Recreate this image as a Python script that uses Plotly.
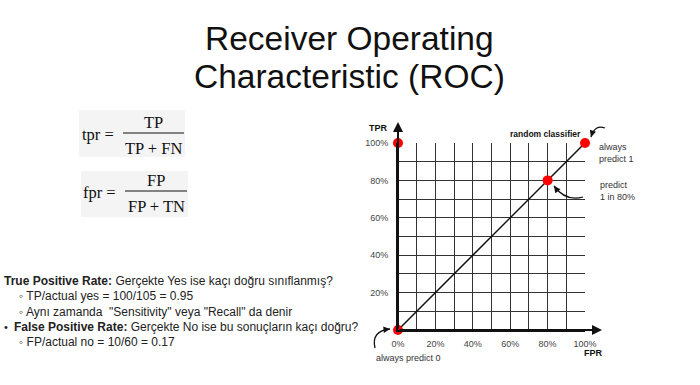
import plotly.graph_objects as go

# ---- data ----
fpr_points = [0.0, 0.8, 1.0, 0.0]
tpr_points = [0.0, 0.8, 1.0, 1.0]
diag_x = [0.0, 1.0]
diag_y = [0.0, 1.0]
x_tick_vals = [0, 0.2, 0.4, 0.6, 0.8, 1.0]
x_tick_text = ["0%", "20%", "40%", "60%", "80%", "100%"]
y_tick_vals = [0.2, 0.4, 0.6, 0.8, 1.0]
y_tick_text = ["20%", "40%", "60%", "80%", "100%"]

title_lines = ["Receiver Operating", "Characteristic (ROC)"]
bullet_lines = [
    "<b>True Positive Rate:</b> Gerçekte Yes ise kaçı doğru sınıflanmış?",
    "◦ TP/actual yes = 100/105 = 0.95",
    "◦ Aynı zamanda  \"Sensitivity\" veya \"Recall\" da denir",
    "<b>False Positive Rate:</b> Gerçekte No ise bu sonuçların kaçı doğru?",
    "◦ FP/actual no = 10/60 = 0.17",
]

W, H = 700, 385
X0, X1, Y0, Y1 = 398, 585, 330, 143  # plot area in pixels


def px(x):
    return (x - X0) / (X1 - X0)


def py(y):
    return (Y0 - y) / (Y0 - Y1)


fig = go.Figure()
fig.add_trace(go.Scatter(x=diag_x, y=diag_y, mode="lines",
                         line=dict(color="#111", width=1.5), hoverinfo="skip"))
fig.add_trace(go.Scatter(x=fpr_points, y=tpr_points, mode="markers",
                         marker=dict(color="#ff0000", size=10), hoverinfo="skip", cliponaxis=False))

grid_col = "#333"
axis_common = dict(range=[0, 1], showgrid=True,
                   gridcolor=grid_col, gridwidth=1, zeroline=False, showline=True,
                   linecolor="#111", linewidth=2, ticks="",
                   tickfont=dict(family="Liberation Sans", size=9, color="#444"),
                   minor=dict(dtick=0.1, tick0=0, showgrid=True, gridcolor=grid_col, gridwidth=1),
                   fixedrange=True)
fig.update_xaxes(**axis_common, tickvals=x_tick_vals, ticktext=x_tick_text, ticklabelstandoff=4)
fig.update_yaxes(**axis_common, tickvals=y_tick_vals, ticktext=y_tick_text, ticklabelstandoff=6)

ann = []
# title
for i, t in enumerate(title_lines):
    ann.append(dict(text=t, x=px(349), y=py(38 + 39 * i), xref="paper", yref="paper",
                    showarrow=False, xanchor="center", yanchor="middle",
                    font=dict(family="Liberation Sans", size=33.5, color="#111")))

# bullet text block
line_y = [281, 296, 311.5, 326.5, 341.5]
line_x = [2, 17, 17, 12, 17]
for t, x, y in zip(bullet_lines, line_x, line_y):
    ann.append(dict(text=t, x=px(x), y=py(y), xref="paper", yref="paper", showarrow=False,
                    xanchor="left", yanchor="middle",
                    font=dict(family="Liberation Sans", size=12, color="#222")))
ann.append(dict(text="•", x=px(2), y=py(326.5), xref="paper", yref="paper", showarrow=False,
                xanchor="left", yanchor="middle",
                font=dict(family="Liberation Sans", size=11, color="#222")))

# formulas
serif = dict(family="Liberation Serif", size=16.5, color="#111")
formulas = [
    ("tpr =", "TP", "TP + FN", 80, 134, 123, 184, 153),
    ("fpr =", "FP", "FP + TN", 81, 192, 125, 187, 156),
]
shapes = []
boxes = [(79, 110, 185, 157), (81, 171, 188, 217)]
for (bx0, by0, bx1, by1) in boxes:
    shapes.append(dict(type="rect", xref="paper", yref="paper", x0=px(bx0), x1=px(bx1),
                       y0=py(by1), y1=py(by0), fillcolor="#f4f4f4", line=dict(width=0), layer="below"))
for lhs, num, den, lx, ly, fx0, fx1, fc in formulas:
    ann.append(dict(text=lhs, x=px(lx), y=py(ly), xref="paper", yref="paper", showarrow=False,
                    xanchor="left", yanchor="middle", font=serif))
    ann.append(dict(text=num, x=px(fc), y=py(ly - 12), xref="paper", yref="paper", showarrow=False,
                    xanchor="center", yanchor="middle", font=serif))
    ann.append(dict(text=den, x=px(fc), y=py(ly + 14), xref="paper", yref="paper", showarrow=False,
                    xanchor="center", yanchor="middle", font=serif))
    shapes.append(dict(type="line", xref="paper", yref="paper", x0=px(fx0), x1=px(fx1),
                       y0=py(ly - 1), y1=py(ly - 1), line=dict(color="#111", width=1)))

# chart labels
small = dict(family="Liberation Sans", size=9, color="#333")
ann += [
    dict(text="<b>TPR</b>", x=px(378), y=py(128), xanchor="center", yanchor="middle",
         font=dict(family="Liberation Sans", size=9, color="#111")),
    dict(text="<b>FPR</b>", x=px(593), y=py(353), xanchor="center", yanchor="middle",
         font=dict(family="Liberation Sans", size=9, color="#111")),
    dict(text="<b>random classifier</b>", x=px(545), y=py(134), xanchor="center", yanchor="middle",
         font=dict(family="Liberation Sans", size=8.5, color="#111")),
    dict(text="always<br>predict 1", x=px(597), y=py(153), xanchor="left", yanchor="middle",
         align="left", font=small),
    dict(text="predict<br>1 in 80%", x=px(598), y=py(191), xanchor="left", yanchor="middle",
         align="left", font=small),
    dict(text="always predict 0", x=px(374), y=py(358), xanchor="left", yanchor="middle",
         font=small),
]
for a in ann:
    a.setdefault("xref", "paper")
    a.setdefault("yref", "paper")
    a.setdefault("showarrow", False)

# axis arrows
ann.append(dict(x=px(398), y=py(122), xref="paper", yref="paper", ax=0, ay=208, text="",
                showarrow=True, arrowhead=2, arrowsize=1, arrowwidth=2, arrowcolor="#111"))
ann.append(dict(x=px(602), y=py(330), xref="paper", yref="paper", ax=-204, ay=0, text="",
                showarrow=True, arrowhead=2, arrowsize=1, arrowwidth=2, arrowcolor="#111"))

# curved arrows
curves = [
    ((605, 128), (595, 124), (591, 137)),
    ((583, 197), (566, 202), (554, 186)),
    ((375, 348), (371, 331), (390, 329)),
]
for (s, c, e) in curves:
    path = f"M {px(s[0])},{py(s[1])} Q {px(c[0])},{py(c[1])} {px(e[0])},{py(e[1])}"
    shapes.append(dict(type="path", xref="paper", yref="paper", path=path,
                       line=dict(color="#111", width=1.3)))
    dx, dy = c[0] - e[0], c[1] - e[1]
    n = (dx * dx + dy * dy) ** 0.5
    ann.append(dict(x=px(e[0]), y=py(e[1]), xref="paper", yref="paper",
                    ax=dx / n * 6, ay=dy / n * 6, text="", showarrow=True,
                    arrowhead=2, arrowsize=1, arrowwidth=1.3, arrowcolor="#111"))

fig.update_layout(width=W, height=H, margin=dict(l=X0, r=W - X1, t=Y1, b=H - Y0),
                  paper_bgcolor="white", plot_bgcolor="white", showlegend=False,
                  annotations=ann, shapes=shapes, hovermode=False)
fig.write_html("out.html", config={"displayModeBar": False},
               post_script="document.body.style.margin='0';document.body.style.overflow='hidden';")
